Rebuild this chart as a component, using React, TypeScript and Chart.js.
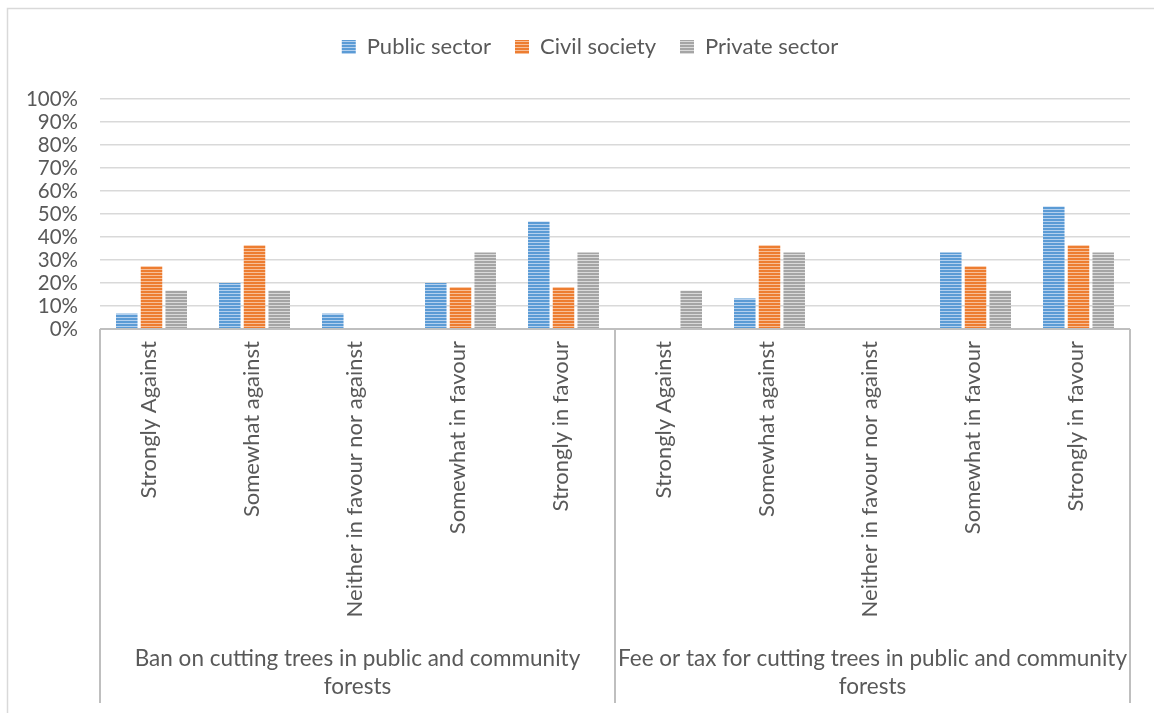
import React, { useEffect, useRef } from "react";
import { Chart, registerables } from "chart.js";

Chart.register(...registerables);

const categories = [
  "Strongly Against",
  "Somewhat against",
  "Neither in favour nor against",
  "Somewhat in favour",
  "Strongly in favour",
  "Strongly Against",
  "Somewhat against",
  "Neither in favour nor against",
  "Somewhat in favour",
  "Strongly in favour",
];

const groupLabels = [
  ["Ban on cutting trees in public and community", "forests"],
  ["Fee or tax for cutting trees in public and community", "forests"],
];

const publicSector = [6.7, 20, 6.7, 20, 46.7, 0, 13.3, 0, 33.3, 53.3];
const civilSociety = [27.3, 36.4, 0, 18.2, 18.2, 0, 36.4, 0, 27.3, 36.4];
const privateSector = [16.7, 16.7, 0, 33.3, 33.3, 16.7, 33.3, 0, 16.7, 33.3];

const seriesNames = ["Public sector", "Civil society", "Private sector"];
const yTicks = [0, 10, 20, 30, 40, 50, 60, 70, 80, 90, 100];

const FONT = "Lato";
const TEXT = "#595959";

function stripe(dark: string, light: string): CanvasPattern | string {
  const c = document.createElement("canvas");
  c.width = 4;
  c.height = 3;
  const g = c.getContext("2d");
  if (!g) return dark;
  g.fillStyle = dark;
  g.fillRect(0, 0, 4, 2);
  g.fillStyle = light;
  g.fillRect(0, 2, 4, 1);
  const p = g.createPattern(c, "repeat");
  return p || dark;
}

const framePlugin = {
  id: "frame",
  afterInit(chart: any) {
    const lg = chart.legend;
    if (lg && !lg.__patched) {
      const orig = lg.fit.bind(lg);
      lg.fit = function () {
        orig();
        this.height += 31;
      };
      lg.__patched = true;
    }
  },
  afterLayout(chart: any) {
    const lg = chart.legend;
    if (lg) {
      lg.left += 15;
      lg.right += 15;
    }
  },
  beforeDraw(chart: any) {
    const { ctx, width, height } = chart;
    ctx.save();
    ctx.strokeStyle = "#d9d9d9";
    ctx.lineWidth = 1.5;
    ctx.beginPath();
    ctx.moveTo(7.5, height + 2);
    ctx.lineTo(7.5, 8.5);
    ctx.lineTo(width + 2, 8.5);
    ctx.stroke();
    ctx.restore();
  },
  afterDraw(chart: any) {
    const { ctx, chartArea } = chart;
    const x = chart.scales.x;
    const n = categories.length;
    const half = (x.getPixelForValue(1) - x.getPixelForValue(0)) / 2;
    const left = x.getPixelForValue(0) - half;
    const right = x.getPixelForValue(n - 1) + half;
    const mid = (x.getPixelForValue(4) + x.getPixelForValue(5)) / 2;
    const bottom = chartArea.bottom;
    const lineEnd = 703;
    ctx.save();
    ctx.strokeStyle = "#bfbfbf";
    ctx.lineWidth = 2;
    ctx.beginPath();
    ctx.moveTo(left, bottom);
    ctx.lineTo(right, bottom);
    ctx.moveTo(left, bottom);
    ctx.lineTo(left, lineEnd);
    ctx.moveTo(mid, bottom);
    ctx.lineTo(mid, lineEnd);
    ctx.moveTo(right, bottom);
    ctx.lineTo(right, lineEnd);
    ctx.stroke();

    ctx.fillStyle = TEXT;
    ctx.font = `22px ${FONT}`;
    for (let i = 0; i < n; i++) {
      const px = x.getPixelForValue(i);
      ctx.save();
      ctx.translate(px - 3, bottom + 12);
      ctx.rotate(-Math.PI / 2);
      ctx.textAlign = "right";
      ctx.textBaseline = "middle";
      ctx.fillText(categories[i], 0, 0);
      ctx.restore();
    }
    const centers = [(left + mid) / 2, (mid + right) / 2];
    ctx.textAlign = "center";
    ctx.textBaseline = "middle";
    ctx.font = `22.5px ${FONT}`;
    groupLabels.forEach((lines, gi) => {
      lines.forEach((line, li) => {
        ctx.fillText(line, centers[gi], 659 + li * 28);
      });
    });
    ctx.restore();
  },
};

export default function App() {
  const ref = useRef<HTMLCanvasElement>(null);
  useEffect(() => {
    if (!ref.current) return;
    const fills = [
      stripe("#5b9bd5", "#b4d0ee"),
      stripe("#ed7d31", "#f7bf98"),
      stripe("#a5a5a5", "#dadada"),
    ];
    const data = [publicSector, civilSociety, privateSector];
    const chart = new Chart(ref.current, {
      type: "bar",
      data: {
        labels: categories,
        datasets: seriesNames.map((name, i) => ({
          label: name,
          data: data[i],
          backgroundColor: fills[i] as any,
          borderWidth: 0,
          categoryPercentage: 0.72,
          barPercentage: 0.87,
        })),
      },
      options: {
        animation: false,
        responsive: false,
        maintainAspectRatio: false,
        layout: { padding: { top: 12, left: 20, right: 24, bottom: 0 } },
        plugins: {
          legend: {
            position: "top",
            labels: {
              boxWidth: 14,
              boxHeight: 14,
              color: TEXT,
              font: { family: FONT, size: 22 },
              padding: 24,
            },
          },
          tooltip: { enabled: false },
        },
        scales: {
          x: {
            grid: { display: false },
            border: { display: false },
            ticks: { display: false },
            afterFit(scale: any) {
              scale.height = 713 - 329;
            },
          },
          y: {
            min: 0,
            max: 100,
            afterBuildTicks(scale: any) {
              scale.ticks = yTicks.map((v) => ({ value: v }));
            },
            afterFit(scale: any) {
              scale.width = 80;
            },
            grid: { color: "#d9d9d9", lineWidth: 1.5, drawTicks: false },
            border: { display: false },
            ticks: {
              color: TEXT,
              autoSkip: false,
              font: { family: FONT, size: 20.5 },
              padding: 22,
              callback: (v: any) => `${v}%`,
            },
          },
        },
      },
      plugins: [framePlugin],
    });
    return () => chart.destroy();
  }, []);
  return (
    <div style={{ position: "fixed", left: 0, top: 0, width: 1154, height: 713, background: "#fff" }}>
      <canvas ref={ref} width={1154} height={713} style={{ width: 1154, height: 713 }} />
    </div>
  );
}
